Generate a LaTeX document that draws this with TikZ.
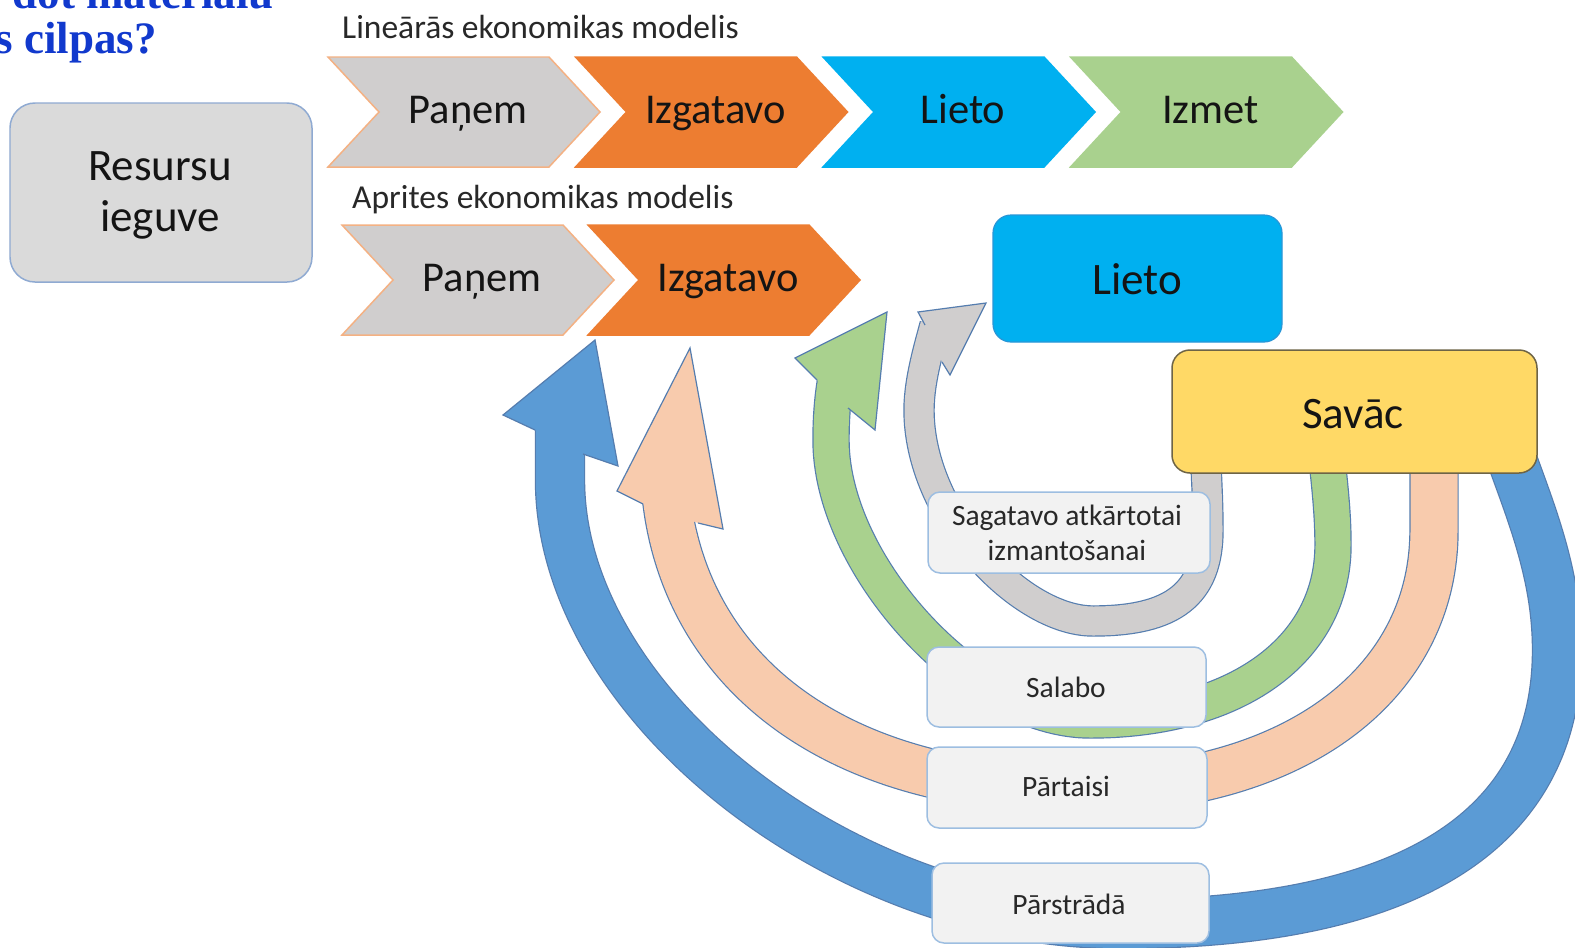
\documentclass[tikz,border=0pt]{standalone}
\usepackage{fontspec}
\setmainfont{Carlito}
\newfontfamily\titlefont{Liberation Serif}
\definecolor{titleblue}{RGB}{17,57,205}
\definecolor{chgray}{RGB}{208,206,206}
\definecolor{chgrayedge}{RGB}{244,177,131}
\definecolor{chorange}{RGB}{237,125,49}
\definecolor{chblue}{RGB}{0,176,240}
\definecolor{chgreen}{RGB}{169,209,142}
\definecolor{resfill}{RGB}{218,218,218}
\definecolor{resdraw}{RGB}{143,170,210}
\definecolor{lietodraw}{RGB}{40,150,215}
\definecolor{savfill}{RGB}{255,217,102}
\definecolor{savdraw}{RGB}{110,100,70}
\definecolor{lblfill}{RGB}{242,242,242}
\definecolor{lbldraw}{RGB}{157,190,225}
\definecolor{arcedge}{RGB}{85,125,175}
\definecolor{arcblue}{RGB}{91,155,213}
\definecolor{arcpeach}{RGB}{248,203,173}
\definecolor{arcgreen}{RGB}{169,209,142}
\definecolor{arcgray}{RGB}{208,206,206}
\definecolor{txtc}{RGB}{20,20,20}
\definecolor{txtsm}{RGB}{40,40,40}
\newcommand\mychev[6]{%
  \draw[fill=#3, draw=#4, line width=1.5pt, line join=miter]
    (#1,#2) -- (#1+221,#2) -- (#1+272,#2+55) -- (#1+221,#2+110) -- (#1,#2+110) -- (#1+51,#2+55) -- cycle;
  \node[chtxt, anchor=base] (#5) at (#1+140,#2+66) {#6};}
\begin{document}
\begin{tikzpicture}[x=1bp,y=-1bp,
  chtxt/.style={font=\fontsize{42.5bp}{50bp}\selectfont, text=txtc, inner sep=0pt},
  bigtxt/.style={font=\fontsize{45bp}{54bp}\selectfont, text=txtc, inner sep=0pt},
  smtxt/.style={font=\fontsize{29.5bp}{35bp}\selectfont, text=txtsm, inner sep=0pt},
  hdtxt/.style={font=\fontsize{33.5bp}{40bp}\selectfont, text=txtsm, inner sep=0pt},
  ttl/.style={font=\titlefont\bfseries\fontsize{45bp}{48bp}\selectfont, text=titleblue, inner sep=0pt},
  lbox/.style={rectangle, rounded corners=12bp, fill=lblfill, draw=lbldraw, line width=1.5pt,
    inner sep=0pt, minimum width=280bp, minimum height=81bp},
  band/.style 2 args={draw=#2, line width=#1, line cap=butt, line join=round,
    preaction={draw=arcedge, line width=#1+2.4pt, line cap=butt, line join=round}},
  headedge/.style={draw=arcedge, line width=1.2pt, line join=miter}
]
\useasboundingbox (0,0) rectangle (1575,947);
\clip (0,0) rectangle (1575,947);
\fill[white] (0,0) rectangle (1575,947);

% title (cut off at the top edge, as in the reference)
\node[ttl, anchor=base east] (t1) at (274,8) {dot materiālu};
\node[ttl, anchor=base east] (t2) at (157,53) {s cilpas?};

% headings
\node[hdtxt, anchor=base west] (hlin) at (342,38) {Lineārās ekonomikas modelis};
\node[hdtxt, anchor=base west] (hapr) at (352,208) {Aprites ekonomikas modelis};

% linear chevrons
\mychev{328}{57}{chgray}{chgrayedge}{p1}{Paņem}
\mychev{575.5}{57}{chorange}{chorange}{i1}{Izgatavo}
\mychev{823}{57}{chblue}{chblue}{l1}{Lieto}
\mychev{1070.5}{57}{chgreen}{chgreen}{z1}{Izmet}

% circular chevrons
\mychev{342}{225}{chgray}{chgrayedge}{p2}{Paņem}
\mychev{588}{225}{chorange}{chorange}{i2}{Izgatavo}

% resource box
\node[rectangle, rounded corners=25bp, fill=resfill, draw=resdraw, line width=1.5pt,
  minimum width=302bp, minimum height=179bp, inner sep=0pt] (res) at (161,192.5) {};
\node[bigtxt, anchor=base] (res1) at (160,180) {Resursu};
\node[bigtxt, anchor=base] (res2) at (160,231) {ieguve};

% ---- circular arrows ----
% blue (Parstrada -> Panem)
\path[band={48bp}{arcblue}] (1505,440) .. controls (1528,506) and (1557,570) .. (1557,650)
  .. controls (1557,831) and (1408,924) .. (1120,924)
  .. controls (840,924) and (560,702) .. (560,480) -- (560,430);
\fill[arcblue] (535,430) -- (503,415) -- (595,340) -- (618,466) -- (583,454) -- cycle;
\draw[headedge] (535,430) -- (503,415) -- (595,340) -- (618,466) -- (583,454);

% peach (Partaisi -> Izgatavo)
\path[band={47bp}{arcpeach}] (1434,440) -- (1434,530)
  .. controls (1434,686) and (1292,790) .. (1080,790)
  .. controls (832,790) and (684,670) .. (666,494);
\fill[arcpeach] (643,504) -- (617,491) -- (690,348) -- (723,529) -- (698,523) -- cycle;
\draw[headedge] (643,504) -- (617,491) -- (690,348) -- (723,529) -- (698,523);

% green (Salabo -> Izgatavo)
\path[band={35bp}{arcgreen}] (1325,440) .. controls (1329,480) and (1333,510) .. (1333,545)
  .. controls (1333,650) and (1236,720) .. (1090,720)
  .. controls (973,720) and (831,566) .. (831,440)
  .. controls (831,415) and (833,395) .. (836,378);
\fill[arcgreen] (817,380) -- (795,358) -- (887,312) -- (875,430) -- (848,408) -- cycle;
\draw[headedge] (817,380) -- (795,358) -- (887,312) -- (875,430) -- (848,408);

% gray (Sagatavo -> Lieto)
\path[band={29bp}{arcgray}] (1205,440) .. controls (1206,470) and (1208,500) .. (1208,530)
  .. controls (1208,594) and (1173,621) .. (1093,621)
  .. controls (1020,621) and (919,515) .. (919,410)
  .. controls (919,380) and (930,344) .. (935,325);
\fill[arcgray] (925,325) -- (918,312) -- (986,303) -- (950,375) -- (942,362) -- cycle;
\draw[headedge] (925,325) -- (918,312) -- (986,303) -- (950,375) -- (942,362);

% label boxes
\node[lbox, minimum width=282bp] (sag) at (1069,532.5) {};
\node[smtxt, anchor=base] (sag1) at (1067,525) {Sagatavo atkārtotai};
\node[smtxt, anchor=base] (sag2) at (1067,560) {izmantošanai};
\node[lbox, minimum width=279bp, minimum height=80bp] (sal) at (1066.5,687) {};
\node[smtxt, anchor=base] (salt) at (1066,697) {Salabo};
\node[lbox] (par) at (1067,787.5) {};
\node[smtxt, anchor=base] (part) at (1066,796) {Pārtaisi};
\node[lbox, minimum width=277bp, minimum height=80bp] (pst) at (1070.5,903) {};
\node[smtxt, anchor=base] (pstt) at (1069,914) {Pārstrādā};

% Lieto box
\node[rectangle, rounded corners=18bp, fill=chblue, draw=lietodraw, line width=1.2pt,
  minimum width=289bp, minimum height=127bp, inner sep=0pt] (lieto) at (1137.5,278.5) {};
\node[bigtxt, anchor=base] (lietot) at (1137,294) {Lieto};

% Savac box
\node[rectangle, rounded corners=18bp, fill=savfill, draw=savdraw, line width=1.5pt,
  minimum width=365bp, minimum height=123bp, inner sep=0pt] (savac) at (1354.5,411.5) {};
\node[bigtxt, anchor=base] (savact) at (1353,428) {Savāc};
\end{tikzpicture}
\end{document}
